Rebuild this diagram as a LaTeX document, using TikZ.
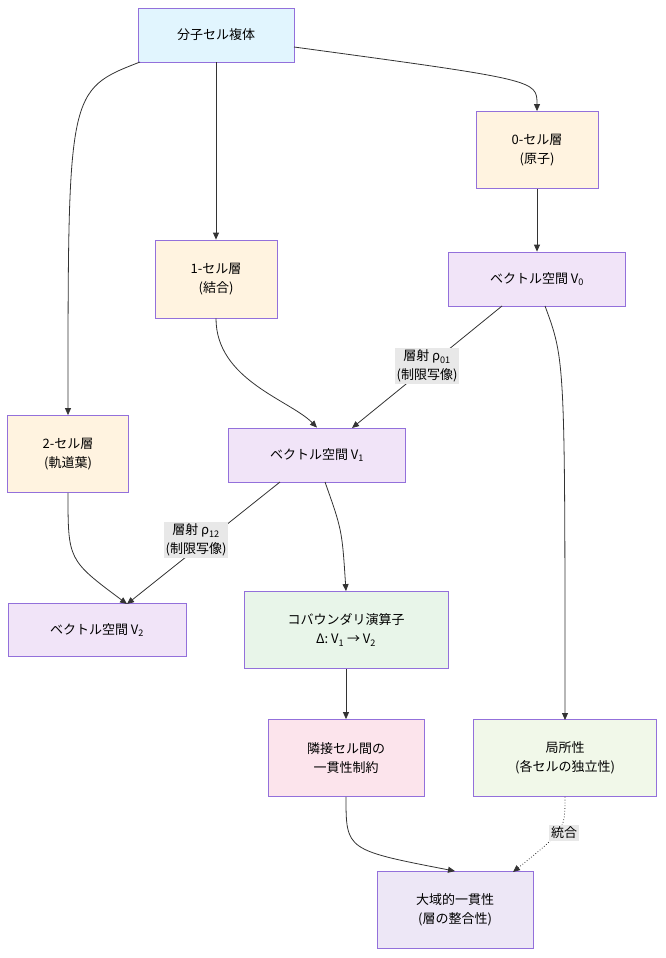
\documentclass[tikz,border=0pt]{standalone}
\usepackage{fontspec}
\setmainfont{Noto Sans CJK JP}
\usetikzlibrary{arrows.meta}
\definecolor{bd}{HTML}{9370DB}
\definecolor{cblue}{HTML}{E1F5FE}
\definecolor{corange}{HTML}{FFF3E0}
\definecolor{cpurple}{HTML}{F1E4F8}
\definecolor{cgreen}{HTML}{E8F5E9}
\definecolor{cpink}{HTML}{FCE4EC}
\definecolor{clime}{HTML}{F1F8E9}
\definecolor{cglob}{HTML}{EDE7F6}
\definecolor{lk}{HTML}{333333}
\definecolor{lbg}{HTML}{E8E8E8}
\begin{document}
\begin{tikzpicture}[x=1pt,y=-1pt,
  box/.style={draw=bd,line width=0.8pt,align=center,font=\fontsize{13}{19}\selectfont,inner sep=0pt},
  ed/.style={draw=lk,line width=0.8pt,-{Triangle[length=7pt,width=6pt]}},
  lab/.style={fill=lbg,align=center,font=\fontsize{13}{19}\selectfont,inner sep=2pt}]
\useasboundingbox (0,0) rectangle (665,958);
\node[box,fill=cblue,minimum width=156pt,minimum height=54pt] (top) at (216,35) {分子セル複体};
\node[box,fill=corange,minimum width=122pt,minimum height=77pt] (c0) at (537,150) {0-セル層\\(原子)};
\node[box,fill=corange,minimum width=122pt,minimum height=78pt] (c1) at (216,279) {1-セル層\\(結合)};
\node[box,fill=cpurple,minimum width=177pt,minimum height=54pt] (v0) at (537,279) {ベクトル空間 V\textsubscript{0}};
\node[box,fill=corange,minimum width=121pt,minimum height=77pt] (c2) at (68,454) {2-セル層\\(軌道葉)};
\node[box,fill=cpurple,minimum width=177pt,minimum height=54pt] (v1) at (317,455) {ベクトル空間 V\textsubscript{1}};
\node[box,fill=cpurple,minimum width=178pt,minimum height=53pt] (v2) at (97,630) {ベクトル空間 V\textsubscript{2}};
\node[box,fill=cgreen,minimum width=204pt,minimum height=77pt] (cob) at (346,630) {コバウンダリ演算子\\Δ: V\textsubscript{1} → V\textsubscript{2}};
\node[box,fill=cpink,minimum width=156pt,minimum height=77pt] (adj) at (346,758) {隣接セル間の\\一貫性制約};
\node[box,fill=clime,minimum width=183pt,minimum height=77pt] (loc) at (565,758) {局所性\\(各セルの独立性)};
\node[box,fill=cglob,minimum width=156pt,minimum height=77pt] (glob) at (455,910) {大域的一貫性\\(層の整合性)};
\coordinate (t0) at (294,47);
\coordinate (t2) at (140,62);
\draw[ed] (t0) .. controls (537,80) .. (c0.north);
\draw[ed] (top.south) -- (c1.north);
\draw[ed] (t2) .. controls (68,90) .. (c2.north);
\draw[ed] (c0) -- (v0);
\coordinate (v0a) at (502,306);
\coordinate (v1a) at (352,428);
\draw[ed] (v0a) -- (v1a);
\node[lab] (l01) at (427,366) {層射 ρ\textsubscript{01}\\(制限写像)};
\draw[ed] (c1.south) .. controls (216,380) and (290,400) .. (v1.north);
\coordinate (v1b) at (280,482);
\coordinate (v2a) at (127,604);
\draw[ed] (v1b) -- (v2a);
\node[lab] (l12) at (196,540) {層射 ρ\textsubscript{12}\\(制限写像)};
\coordinate (v1c) at (325,482);
\draw[ed] (v1c) .. controls (342,530) .. (cob.north);
\draw[ed] (c2.south) .. controls (68,560) .. (v2a);
\coordinate (v0b) at (545,306);
\coordinate (loct) at (565,720);
\draw[ed] (v0b) .. controls (565,360) .. (loct);
\draw[ed] (cob) -- (adj);
\draw[ed] (adj.south) .. controls (346,850) .. (glob.north);
\coordinate (g2) at (513,872);
\draw[ed,dotted] (loc.south) .. controls (565,830) .. (g2);
\node[lab] (lt) at (564,833) {統合};
\end{tikzpicture}
\end{document}
